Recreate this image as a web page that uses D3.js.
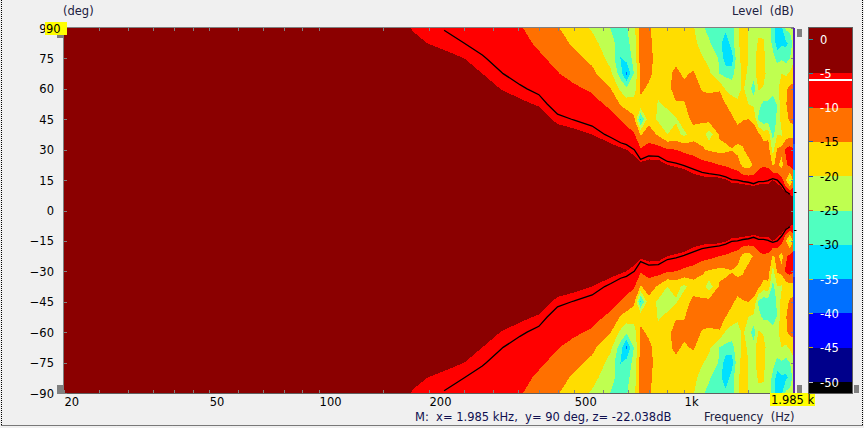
<!DOCTYPE html>
<html><head><meta charset="utf-8">
<script src="https://cdn.jsdelivr.net/npm/d3@7"></script>
<style>
html,body{margin:0;padding:0;background:#f0f0f0;overflow:hidden}
svg{display:block}
text{font-family:"DejaVu Sans",sans-serif;font-size:11.5px;fill:#000}
</style></head><body><svg id="c" width="864" height="428"></svg>
<script>
// Frequency columns (Hz)
const frequencies=[20,100,150,170,180,200,220,250,280,315,355,400,450,500,560,630,670,695,730,760,800,850,900,950,1000,1060,1120,1170,1250,1300,1350,1400,1450,1500,1550,1600,1650,1700,1750,1800,1850,1900,1950,2000];
// Angle rows (deg), upper half; the lower half reads as its mirror image
const angles=[0,7.5,15,22.5,30,37.5,45,52.5,60,67.5,75,82.5,90];
// Level in dB, one row per frequency, in the order of `angles`
const levels=[
[0,0,0,0,0,-.1,-.1,-.1,-.2,-.2,-.2,-.2,-.3],
[0,-.1,-.1,-.2,-.3,-.4,-.6,-.8,-1,-1.2,-1.3,-1.4,-1.5],
[0,-.1,-.2,-.4,-.6,-.9,-1.3,-1.7,-2,-2.4,-2.7,-2.9,-3],
[0,-.1,-.3,-.5,-.8,-1.2,-1.7,-2.2,-2.7,-3.2,-3.7,-4.2,-4.5],
[0,-.1,-.3,-.6,-.9,-1.4,-1.9,-2.5,-3,-3.5,-4,-4.6,-5.1],
[0,-.1,-.3,-.6,-1,-1.5,-2.1,-2.7,-3.2,-3.7,-4.1,-5.05,-5.6],
[0,-.1,-.3,-.6,-1,-1.4,-1.8,-2.3,-2.9,-3.5,-4.5,-5.4,-6.1],
[0,-.1,-.3,-.7,-1.1,-1.6,-2.1,-2.7,-3.3,-4,-5,-6,-7],
[0,-.1,-.4,-.8,-1.3,-1.9,-2.5,-3.2,-4,-5,-5.8,-6.7,-7.5],
[0,-.2,-.5,-1,-1.6,-2.3,-3.1,-4,-5.05,-5.9,-6.7,-7.6,-8.4],
[0,-.2,-.6,-1.2,-1.8,-2.7,-3.6,-4.6,-5.7,-6.8,-7.8,-8.7,-9.6],
[0,-.2,-.7,-1.3,-2,-3,-4,-5.2,-6.5,-8,-9.3,-10.7,-12],
[0,-.3,-.8,-1.5,-2.4,-3.9,-5.5,-7,-8.4,-9.8,-11.2,-12.9,-14.6],
[0,-.3,-.9,-1.7,-2.8,-4.3,-6.1,-7.8,-9.3,-11.4,-13.6,-15.9,-18],
[0,-.3,-1,-2,-3.5,-5,-6.8,-8.6,-10.6,-13.7,-16.3,-18.4,-20.6],
[0,-.4,-1.1,-2.2,-4,-6.5,-8.5,-11,-15,-19.3,-21.6,-23.2,-25.2],
[0,-.4,-1.2,-2.4,-4.5,-7.8,-10.2,-15.5,-21,-27.5,-30.3,-27.5,-26.5],
[0,-.4,-1.2,-2.5,-5,-8,-11.5,-17,-24,-36,-28,-26.5,-25.5],
[0,-.4,-1.3,-3.5,-6,-9.5,-14,-18,-22,-24.5,-23.5,-22.5,-21.5],
[0,-.5,-1.5,-4,-9.5,-15.5,-31,-16,-14.3,-13.5,-13,-12.5,-12],
[0,-.5,-1.4,-3.5,-7.7,-12.7,-16.5,-17,-15.7,-14,-13.5,-13.8,-14.3],
[0,-.5,-1.4,-3.5,-8,-15.7,-21,-20.5,-18.5,-17,-17,-17.5,-17.5],
[0,-.5,-1.5,-5,-9.5,-20,-22,-19,-16.2,-15.8,-17,-17.5,-18],
[0,-.5,-1.8,-5.5,-10,-18.5,-20.5,-15.3,-13.5,-14.2,-15.8,-17,-18],
[0,-.5,-2,-6.2,-11,-21,-17.5,-15.3,-14,-15.6,-16.5,-17.5,-18],
[0,-.6,-3.5,-7,-12,-17.5,-13.5,-12.5,-13,-14.5,-17,-18.5,-19.5],
[0,-.7,-4,-8,-14.5,-16.5,-14.5,-13.5,-15.3,-17.5,-19.5,-22,-24.5],
[0,-.8,-4.2,-8.5,-15.5,-23,-13,-13,-15.8,-19,-21.5,-24.5,-26],
[0,-.9,-4,-10,-16.5,-14.3,-11.5,-12.5,-15.5,-25,-25.5,-28,-27],
[0,-1,-4.8,-10.5,-16,-13.5,-11.5,-15,-20.5,-26.5,-33,-34,-28.5],
[0,-1,-5.8,-11.5,-15.3,-12,-13.8,-17.5,-22,-27,-33,-27.5,-27],
[0,-1,-6,-12.5,-16.5,-12.5,-16.5,-19.5,-21,-22,-21.5,-21,-21],
[0,-1.1,-6.5,-16.5,-15.5,-13,-15.2,-17.5,-19.5,-19,-18.5,-18,-17.5],
[0,-1.2,-6.8,-17.5,-12.5,-12.5,-15,-20,-22,-20.5,-20,-20,-20.5],
[0,-1.2,-7.5,-14.5,-12,-13,-15.8,-21,-28,-22,-21.5,-21.5,-22],
[0,-1.3,-6.5,-11.5,-12,-14,-26,-23.5,-19.5,-17.5,-18,-19.5,-20.8],
[0,-1.3,-6.5,-10.5,-12,-17.5,-28,-26,-20.5,-18.5,-18.5,-19.8,-20.5],
[0,-1.4,-6.2,-11,-12.5,-16.5,-28,-26,-21.5,-22,-22.5,-23,-23.5],
[0,-1.5,-5,-15.5,-22,-27,-29,-28,-22.5,-22.5,-24,-25.8,-26],
[0,-1.5,-6,-14,-14.5,-20,-24,-24.5,-21,-23,-26,-33,-34],
[0,-1.8,-8,-17,-13.5,-20.5,-18,-17,-17.5,-20,-25.5,-31,-31],
[0,-3,-15,-11,-9,-18,-16,-15.3,-15.5,-21,-27,-31,-24],
[0,-5,-22,-8.5,-8,-17,-14.5,-13,-14,-19,-25,-29,-23],
[0,-5.3,-13,-8.5,-9.5,-17,-14,-12.5,-13.5,-17,-21,-22,-22]
];
// Colour bands: lower threshold (dB) and colour
const bandThresholds=[-50,-45,-40,-35,-30,-25,-20,-15,-10,-5];
const bandColours=["#00008b","#0000ff","#0070ff","#00e0ff","#50ffc0","#bfff50","#ffdd00","#ff7000","#ff0000","#8b0000"];
const belowColour="#000000";
const contourLevel=-6;
const yTickValues=[90,75,60,45,30,15,0,-15,-30,-45,-60,-75,-90];
const xLabelValues=[20,50,100,200,500,1000,2000];
const xLabelTexts=["20","50","100","200","500","1k","2k"];
const xMinorTicks=[20,25,30,35,40,45,50,60,70,80,90,100,150,200,250,300,350,400,450,500,600,700,800,900,1000,1500,2000];
const barTicks=[0,-5,-10,-15,-20,-25,-30,-35,-40,-45,-50];
const barTickColours=["#2090a0","#2090a0","#209060","#2060c0","#1040e0","#e06020","#c04020","#d0c020","#c0c020","#c0b000","#c0c0c0"];
const barLabelColours=["#fff","#fff","#fff","#000","#000","#000","#000","#fff","#fff","#fff","#fff"];
const markerSpans=[[90,62,"#5a20b0"],[62,33,"#2a30e0"],[33,20,"#2060ff"],[20,-20,"#00dcdc"],[-20,-33,"#2060ff"],[-33,-62,"#2a30e0"],[-62,-90,"#5a20b0"]];

const svg=d3.select("#c");
const L=64,R=794,T=28,B=393;
const x=d3.scaleLog().domain([20,2000]).range([L,R]);
const y=d3.scaleLinear().domain([90,-90]).range([T,B]);
const barZ=d3.scaleLinear().domain([0,-50]).range([39,382]);

// Full grid: rows from +90 to -90
const rowAngles=[...angles.slice().reverse(),...angles.slice(1).map(a=>-a)];
const n=frequencies.length,m=rowAngles.length;
const grid=new Array(n*m);
rowAngles.forEach((a,j)=>{const k=angles.indexOf(Math.abs(a));
  frequencies.forEach((f,i)=>{grid[i+j*n]=levels[i][k];});});
const ix=d3.scaleLinear().domain(d3.range(n)).range(frequencies.map(f=>x(f)));
const iy=d3.scaleLinear().domain(d3.range(m)).range(rowAngles.map(a=>y(a)));
const gen=d3.contours().size([n,m]);
const clampI=(c,k)=>Math.max(0,Math.min(k-1,c-.5));
const ptOf=p=>[ix(clampI(p[0],n)),iy(clampI(p[1],m))];
const ringPath=r=>"M"+r.map(p=>ptOf(p).map(v=>v.toFixed(2)).join(",")).join("L")+"Z";

svg.append("rect").attr("width",864).attr("height",428).attr("fill","#f0f0f0");
// dotted window edge
const dots=[[1.5,0,1.5,426],[1.5,425.5,863,425.5],[862.5,0,862.5,426]];
svg.selectAll(".dot").data(dots).join("line").attr("x1",d=>d[0]).attr("y1",d=>d[1]).attr("x2",d=>d[2]).attr("y2",d=>d[3])
  .attr("stroke","#000").attr("stroke-dasharray","1 1");

const plot=svg.append("g").attr("shape-rendering","crispEdges");
plot.append("rect").attr("x",L).attr("y",T).attr("width",R-L).attr("height",B-T).attr("fill",belowColour);
bandThresholds.forEach((t,i)=>{
  const c=gen.thresholds([t])(grid)[0];
  plot.append("path").attr("fill",bandColours[i]).attr("fill-rule","evenodd")
    .attr("d",c.coordinates.map(poly=>poly.map(ringPath).join("")).join(""));
});
// -6 dB contour line, open where it meets the plot edge
const line=d3.line();
const lineC=gen.thresholds([contourLevel])(grid)[0];
const onEdge=p=>p[0]<=.5||p[0]>=n-.5||p[1]<=.5||p[1]>=m-.5;
let segs=[];
lineC.coordinates.forEach(poly=>poly.forEach(r=>{
  let cur=[];
  r.forEach((p,i)=>{
    if(onEdge(p)){ if(cur.length>1)segs.push(cur); cur=[]; }
    else cur.push(ptOf(p));
  });
  if(cur.length>1)segs.push(cur);
}));
svg.append("g").selectAll("path").data(segs).join("path").attr("d",line).attr("fill","none")
  .attr("stroke","#000").attr("stroke-width",1.3);

// Axes
const gray="#808080";
const frame=svg.append("g").attr("shape-rendering","crispEdges");
frame.append("path").attr("d",`M${L-.5},${B+.5}V${T-.5}H${R}`).attr("fill","none").attr("stroke",gray).attr("stroke-width",1);
frame.append("path").attr("d",`M${L-.5},${B+.5}H${R}`).attr("fill","none").attr("stroke","#606060").attr("stroke-width",1.5);
const tickStyle=g=>{g.select(".domain").remove();g.selectAll("line").attr("stroke",gray);g.selectAll("text").remove();};
frame.append("g").attr("transform",`translate(0,${T})`).call(d3.axisTop(x).tickValues(xMinorTicks).tickSize(-3).tickFormat("")).call(tickStyle);
frame.append("g").attr("transform",`translate(0,${B})`).call(d3.axisBottom(x).tickValues(xMinorTicks).tickSize(-3).tickFormat("")).call(tickStyle);
frame.append("g").attr("transform",`translate(${L},0)`).call(d3.axisLeft(y).tickValues(yTickValues).tickSize(-3).tickFormat("")).call(tickStyle);

// Right marker line
svg.append("g").attr("shape-rendering","crispEdges").selectAll("line").data(markerSpans).join("line")
  .attr("x1",793.5).attr("x2",793.5).attr("y1",d=>y(d[0])).attr("y2",d=>y(d[1])).attr("stroke",d=>d[2]).attr("stroke-width",2);
frame.append("g").attr("transform",`translate(${R},0)`).call(d3.axisLeft(y).tickValues(yTickValues).tickSize(3).tickFormat("")).call(tickStyle);
svg.append("line").attr("x1",794).attr("x2",796.5).attr("y1",192.5).attr("y2",192.5).attr("stroke","#000");
svg.append("line").attr("x1",794).attr("x2",796.5).attr("y1",230.5).attr("y2",230.5).attr("stroke","#000");

// Handles
const handles=[[797,29,5,8],[797,385,5,8],[57,35,6,3],[57,385,6,9],[854,385,5,8]];
svg.selectAll(".h").data(handles).join("rect").attr("x",d=>d[0]).attr("y",d=>d[1]).attr("width",d=>d[2]).attr("height",d=>d[3]).attr("fill",gray);

// Tick labels
const yl=svg.append("g").attr("transform",`translate(${L},0)`).call(d3.axisLeft(y).tickValues(yTickValues).tickSize(0).tickPadding(10));
yl.select(".domain").remove();
yl.selectAll("text").attr("font-family",null).attr("dy","0.35em");
yl.attr("font-family",null).attr("font-size",null);
const xl=svg.append("g").attr("transform",`translate(0,${B})`).call(d3.axisBottom(x).tickValues(xLabelValues).tickSize(0).tickPadding(2).tickFormat((d,i)=>xLabelTexts[i]));
xl.select(".domain").remove();
xl.attr("font-family",null).attr("font-size",null);
xl.selectAll("text").attr("text-anchor","start").attr("dy","0.95em");

// Titles
const label=(t,px,py,col)=>svg.append("text").attr("x",px).attr("y",py).text(t).attr("xml:space","preserve").style("white-space","pre").style("fill",col||"#000");
label("(deg)",63,15,"#202040");
label("Level  (dB)",732,15,"#202040");
label("Frequency  (Hz)",704,421,"#202040");
label("M:  x= 1.985 kHz,  y= 90 deg, z= -22.038dB",415,421,"#101050");

// Yellow readouts
svg.append("rect").attr("x",45).attr("y",22).attr("width",22).attr("height",13).attr("fill","#ffff00");
label("90",46,33);
svg.append("rect").attr("x",770).attr("y",393).attr("width",45).attr("height",13).attr("fill","#ffff00");
label("1.985 k",771,404);

// Colour bar
const bar=svg.append("g").attr("shape-rendering","crispEdges");
const barL=809,barR=852,barTop=28,barBot=393;
const barEdges=[barBot,...bandThresholds.map(t=>barZ(t)),barTop];
[belowColour,...bandColours].forEach((c,i)=>{
  bar.append("rect").attr("x",barL).attr("width",barR-barL).attr("y",barEdges[i+1]).attr("height",barEdges[i]-barEdges[i+1]).attr("fill",c);
});
bar.append("line").attr("x1",barL).attr("x2",barR).attr("y1",barZ(contourLevel)).attr("y2",barZ(contourLevel)).attr("stroke","#fff").attr("stroke-width",1.5);
bar.append("rect").attr("x",barL-.5).attr("y",barTop-.5).attr("width",barR-barL+1).attr("height",barBot-barTop+1).attr("fill","none").attr("stroke","#606060").attr("stroke-width",1.5);
bar.selectAll(".t").data(barTicks).join("line").attr("x1",barL).attr("x2",barL+4).attr("y1",d=>barZ(d)).attr("y2",d=>barZ(d))
  .attr("stroke",(d,i)=>barTickColours[i]);
svg.selectAll(".bl").data(barTicks).join("text").attr("x",820).attr("y",d=>barZ(d)+4.5).text(d=>d)
  .style("fill",(d,i)=>barLabelColours[i]);
</script></body></html>
